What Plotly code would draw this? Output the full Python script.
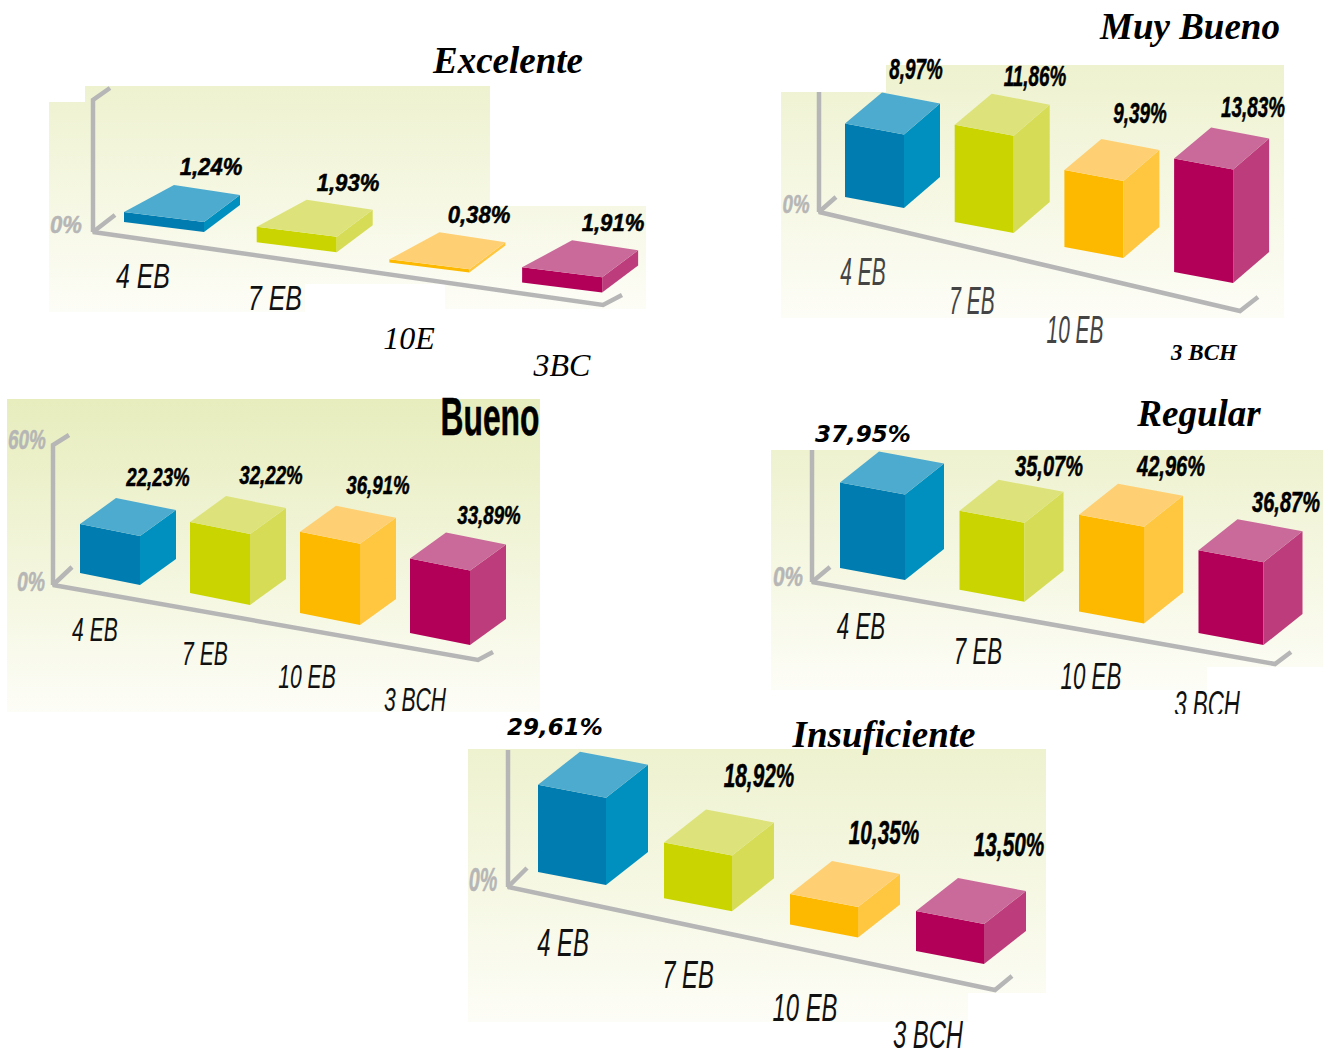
import plotly.graph_objects as go

# ---------- data ----------
CATEGORIES = ["4 EB", "7 EB", "10 EB", "3 BCH"]
EXCELENTE_CATEGORIES = ["4 EB", "7 EB", "10E", "3BC"]
EXCELENTE = [1.24, 1.93, 0.38, 1.91]
MUY_BUENO = [8.97, 11.86, 9.39, 13.83]
BUENO = [22.23, 32.22, 36.91, 33.89]
REGULAR = [37.95, 35.07, 42.96, 36.87]
INSUFICIENTE = [29.61, 18.92, 10.35, 13.50]

# ---------- styles ----------
FRONT = ["#007cb0", "#cad400", "#fdb900", "#b20058"]
SIDE = ["#0090bf", "#d6dc55", "#ffc63f", "#bd3d7c"]
TOP = ["#4dabd0", "#dde37a", "#ffd073", "#c96a9b"]
GRAY = "#b6b6b6"
SERIF = "Liberation Serif"
DEJAVU = "DejaVu Sans"


def sans(ratio):
    """Liberation Sans, narrowed to `ratio` percent by the page script below."""
    return f"Liberation Sans, cond{ratio}"


# ---------- panel layout (page pixels) ----------
PANELS = [
    dict(title="Excelente", title_xy=(508, 64), values=EXCELENTE, cats=EXCELENTE_CATEGORIES,
         bg=[(49, 102), (85, 102), (85, 86), (490, 86), (490, 284), (445, 284), (445, 206), (646, 206),
             (646, 309), (445, 309), (445, 284), (305, 284), (305, 312), (49, 312)],
         bg_top="#eef2cf", base=(124, 222), step=(132.7, 20.2), front=(80, 10), depth=(36, -27), apex=50, scale=8.0,
         vaxis=[(110, 88), (93, 100), (93, 232)], floor=[(115, 215), (93, 232), (603, 305), (622, 295)],
         label_xy=[(211, 167), (348, 183), (479, 215), (613, 223)],
         label_font=(sans(92), 24),
         cat_xy=[(143, 276), (275, 298), (409, 341), (562, 368)],
         cat_fonts=[(sans(71), 35, "normal"), (sans(71), 35, "normal"), (SERIF, 32, "normal"), (SERIF, 32, "normal")],
         cat_color="#111111",
         ticks=[("0%", (66, 225), 24, 92)]),
    dict(title="Muy Bueno", title_xy=(1190, 30), values=MUY_BUENO, cats=CATEGORIES,
         bg=[(781, 92), (886, 92), (886, 65), (1284, 65), (1284, 318), (781, 318)],
         bg_top="#eef2cf", base=(845, 197), step=(109.7, 25), front=(59, 11), depth=(36, -31), apex=37, scale=8.2,
         vaxis=[(819, 92), (819, 212)], floor=[(836, 197), (819, 212), (1240, 311), (1258, 297)],
         label_xy=[(916, 69), (1035, 76), (1140, 113), (1253, 107)],
         label_font=(sans(63), 30),
         cat_xy=[(863, 272), (972, 301), (1075, 330), (1204, 354)],
         cat_fonts=[(sans(55), 38, "normal"), (sans(55), 38, "normal"), (sans(55), 38, "normal"), (SERIF, 23, "bold")],
         cat_color="#444444",
         ticks=[("0%", (796, 204), 26, 72)]),
    dict(title="Bueno", title_xy=(490, 418), values=BUENO, cats=CATEGORIES,
         bg=[(7, 399), (540, 399), (540, 712), (7, 712)],
         bg_top="#e7edbd", base=(80, 573), step=(110, 20), front=(60, 12), depth=(36, -26), apex=36, scale=2.2,
         vaxis=[(69, 435), (53, 445), (53, 585)], floor=[(72, 567), (53, 585), (478, 660), (493, 652)],
         label_xy=[(158, 477), (271, 475), (378, 485), (489, 515)],
         label_font=(sans(72), 26),
         cat_xy=[(95, 630), (205, 654), (307, 677), (415, 700)],
         cat_fonts=[(sans(64), 33, "normal")] * 4,
         cat_color="#111111",
         ticks=[("60%", (27, 440), 27, 70), ("0%", (31, 582), 27, 72)]),
    dict(title="Regular", title_xy=(1199, 417), values=REGULAR, cats=CATEGORIES,
         bg=[(771, 450), (1323, 450), (1323, 667), (1207, 667), (1207, 690), (771, 690)],
         bg_top="#eef2cf", base=(840, 568), step=(119.5, 21.7), front=(65, 12), depth=(39, -31), apex=39, scale=2.25,
         vaxis=[(812, 450), (812, 582)], floor=[(830, 567), (812, 582), (1275, 664), (1291, 652)],
         label_xy=[(863, 436), (1049, 466), (1171, 466), (1286, 502)],
         label_font=(sans(69), 29),
         cat_xy=[(861, 627), (978, 652), (1091, 677), (1207, 705)],
         cat_fonts=[(sans(62), 36, "normal")] * 4,
         cat_color="#111111",
         ticks=[("0%", (788, 577), 27, 77)]),
    dict(title="Insuficiente", title_xy=(884, 738), values=INSUFICIENTE, cats=CATEGORIES,
         bg=[(468, 749), (1046, 749), (1046, 993), (968, 993), (968, 1022), (468, 1022)],
         bg_top="#eef2cf", base=(538, 872), step=(126, 26.3), front=(68, 13), depth=(42, -33), apex=42, scale=2.95,
         vaxis=[(508, 750), (508, 887)], floor=[(527, 868), (508, 887), (995, 990), (1012, 976)],
         label_xy=[(555, 729), (759, 776), (884, 833), (1009, 845)],
         label_font=(sans(63), 33),
         cat_xy=[(563, 943), (688, 975), (805, 1008), (928, 1035)],
         cat_fonts=[(sans(61), 39, "normal")] * 4,
         cat_color="#111111",
         ticks=[("0%", (483, 880), 33, 60)]),
]
WIDE_LABELS = {37.95, 29.61}
MASKS = [[(1160, 714), (1260, 714), (1260, 726), (1160, 726)]]

CONDENSE = """
document.body.style.margin = '0';
document.querySelectorAll('.textpoint text').forEach(function (t) {
  var m = /cond(\\d+)/.exec(t.style.fontFamily || '');
  if (!m) { return; }
  t.setAttribute('textLength', t.getComputedTextLength() * Number(m[1]) / 100);
  t.setAttribute('lengthAdjust', 'spacingAndGlyphs');
  if (String(t.style.fontWeight) === 'bold' || Number(t.style.fontWeight) >= 600) {
    t.style.stroke = t.style.fill;
    t.style.strokeWidth = '0.5px';
  }
});
"""


def poly(points, **kw):
    xs = [p[0] for p in points] + [points[0][0]]
    ys = [p[1] for p in points] + [points[0][1]]
    return go.Scatter(x=xs, y=ys, mode="lines", fill="toself", line=dict(width=0),
                      hoverinfo="skip", showlegend=False, **kw)


def path(points):
    return go.Scatter(x=[p[0] for p in points], y=[p[1] for p in points], mode="lines",
                      line=dict(color=GRAY, width=4.5), hoverinfo="skip", showlegend=False)


def text(label, xy, family, size, color="#000000", weight="normal", style="normal"):
    # narrowed text sits slightly low in the reference, as its glyphs are taller than they are wide
    y = xy[1] + (0.08 * size if "cond" in family else 0)
    return go.Scatter(x=[xy[0]], y=[y], mode="text", text=[label], textposition="middle center",
                      textfont=dict(family=family, size=size, color=color, weight=weight, style=style),
                      hoverinfo="skip", showlegend=False)


def bar_faces(p, i, value):
    """Oblique projection of a bar: the height comes from the value through the panel scale."""
    x0 = p["base"][0] + i * p["step"][0]
    y0 = p["base"][1] + i * p["step"][1]
    h = value * p["scale"]
    fx, fy = p["front"]
    dx, dy = p["depth"]
    front = [(x0, y0), (x0 + fx, y0 + fy), (x0 + fx, y0 + fy - h), (x0, y0 - h)]
    side = [(x0 + fx, y0 + fy), (x0 + fx + dx, y0 + fy + dy), (x0 + fx + dx, y0 + fy + dy - h), (x0 + fx, y0 + fy - h)]
    top = [(x0, y0 - h), (x0 + fx, y0 + fy - h), (x0 + fx + dx, y0 + fy + dy - h), (x0 + p["apex"], y0 + dy - h)]
    return front, side, top


fig = go.Figure()

for p in PANELS:
    fig.add_trace(poly(p["bg"], fillgradient=dict(type="vertical",
                                                  colorscale=[[0, "#fdfdf7"], [1, p["bg_top"]]])))
for p in PANELS:
    fig.add_trace(path(p["vaxis"]))
    fig.add_trace(path(p["floor"]))
    for i, v in enumerate(p["values"]):
        front, side, top = bar_faces(p, i, v)
        fig.add_trace(poly(front, fillcolor=FRONT[i]))
        fig.add_trace(poly(side, fillcolor=SIDE[i]))
        fig.add_trace(poly(top, fillcolor=TOP[i]))

for p in PANELS:
    if p["title"] == "Bueno":
        fig.add_trace(text(p["title"], p["title_xy"], sans(60), 53, weight="bold"))
    else:
        fig.add_trace(text(p["title"], p["title_xy"], SERIF, 37, weight="bold", style="italic"))
    for i, v in enumerate(p["values"]):
        label = f"{v:.2f}%".replace(".", ",")
        fam, size = (DEJAVU, 23) if v in WIDE_LABELS else p["label_font"]
        fig.add_trace(text(label, p["label_xy"][i], fam, size, weight="bold", style="italic"))
    for i, cat in enumerate(p["cats"]):
        fam, size, w = p["cat_fonts"][i]
        color = "#000000" if fam == SERIF else p["cat_color"]
        fig.add_trace(text(cat, p["cat_xy"][i], fam, size, color=color, weight=w, style="italic"))
    for label, xy, size, ratio in p["ticks"]:
        fig.add_trace(text(label, xy, sans(ratio), size, color=GRAY, weight="bold", style="italic"))

for m in MASKS:
    fig.add_trace(poly(m, fillcolor="#ffffff"))

fig.update_layout(
    width=1335, height=1052, margin=dict(l=0, r=0, t=0, b=0),
    paper_bgcolor="#ffffff", plot_bgcolor="#ffffff", showlegend=False,
    xaxis=dict(range=[0, 1335], visible=False, fixedrange=True),
    yaxis=dict(range=[1052, 0], visible=False, fixedrange=True),
)

fig.write_html("out.html", config={"displayModeBar": False}, post_script=CONDENSE)
